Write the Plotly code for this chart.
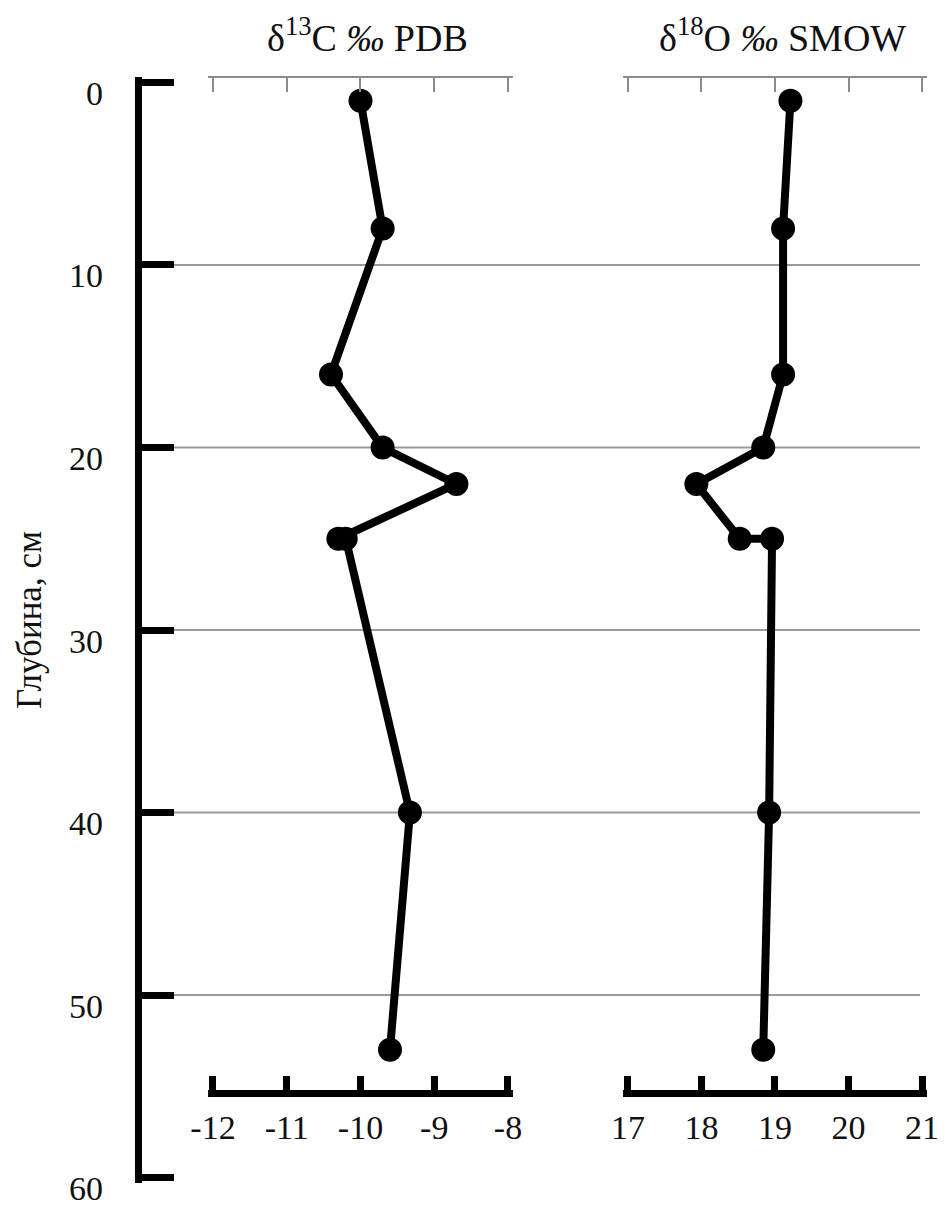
import plotly.graph_objects as go

# Depth (cm) and isotope values
depth_c = [1, 8, 16, 20, 22, 25, 25, 40, 53]
d13c = [-10.0, -9.7, -10.4, -9.7, -8.7, -10.3, -10.2, -9.33, -9.6]

depth_o = [1, 8, 16, 20, 22, 25, 25, 40, 53]
d18o = [19.21, 19.11, 19.11, 18.84, 17.93, 18.52, 18.96, 18.92, 18.84]

depth_ticks = [0, 10, 20, 30, 40, 50, 60]
grid_ticks = [10, 20, 30, 40, 50]
c_ticks = [-12, -11, -10, -9, -8]
o_ticks = [17, 18, 19, 20, 21]

FONT = "Liberation Serif"
OFF = 8  # default page margin of the html body
W, H = 950 - OFF, 1207 - OFF

# pixel layout of the reference (page coordinates)
Y0_PX, Y60_PX = 82, 1178
UY = (Y60_PX - Y0_PX) / 60.0
PADY = 0.3
MT = (Y0_PX - OFF) - PADY * UY
MB = (H - (Y60_PX - OFF)) - PADY * UY
ML = 138 - OFF
MR = 21 - OFF
PW = W - ML - MR
PH = H - MT - MB


def px_x(p):
    return (p - OFF - ML) / PW


def px_y(p):
    return (H - MB - (p - OFF)) / PH


def padded(lo_px, hi_px, lo_v, hi_v, pad=0.07):
    u = (hi_px - lo_px) / (hi_v - lo_v)
    dom = [px_x(lo_px - pad * u), px_x(hi_px + pad * u)]
    rng = [lo_v - pad, hi_v + pad]
    return dom, rng


dom_c, rng_c = padded(213, 508, -12, -8)
dom_o, rng_o = padded(628, 922, 17, 21)

fig = go.Figure()
fig.add_trace(go.Scatter(x=d13c, y=depth_c, xaxis="x", yaxis="y",
                         mode="lines+markers",
                         line=dict(color="black", width=8),
                         marker=dict(color="black", size=24),
                         cliponaxis=False, showlegend=False, hoverinfo="skip"))
fig.add_trace(go.Scatter(x=d18o, y=depth_o, xaxis="x2", yaxis="y",
                         mode="lines+markers",
                         line=dict(color="black", width=8),
                         marker=dict(color="black", size=24),
                         cliponaxis=False, showlegend=False, hoverinfo="skip"))
# empty traces so that the top (grey) axes get drawn
fig.add_trace(go.Scatter(x=[], y=[], xaxis="x3", yaxis="y", showlegend=False,
                         hoverinfo="skip"))
fig.add_trace(go.Scatter(x=[], y=[], xaxis="x4", yaxis="y", showlegend=False,
                         hoverinfo="skip"))

bottom_pos = px_y(1093)
tickfont = dict(family=FONT, size=34, color="#111")

common_bottom = dict(anchor="free", position=bottom_pos, showline=True,
                     linecolor="black", linewidth=7, ticks="inside",
                     ticklen=14, tickwidth=7, tickcolor="black",
                     showgrid=False, zeroline=False, tickfont=tickfont,
                     ticklabelstandoff=2, automargin=False)
common_top = dict(side="top", anchor="free", position=1, showline=True,
                  linecolor="#8c8c8c", linewidth=2, ticks="inside",
                  ticklen=14, tickwidth=2, tickcolor="#8c8c8c",
                  showticklabels=False, showgrid=False, zeroline=False,
                  automargin=False)

fig.update_layout(
    width=W, height=H, autosize=False,
    margin=dict(l=ML, r=MR, t=MT, b=MB, pad=0),
    plot_bgcolor="white", paper_bgcolor="white",
    font=dict(family=FONT, color="#111"),
    xaxis=dict(domain=dom_c, range=rng_c, tickvals=c_ticks,
               ticktext=[str(v) for v in c_ticks], **common_bottom),
    xaxis2=dict(domain=dom_o, range=rng_o, tickvals=o_ticks,
                ticktext=[str(v) for v in o_ticks], **common_bottom),
    xaxis3=dict(overlaying="x", range=rng_c, tickvals=c_ticks, **common_top),
    xaxis4=dict(overlaying="x2", range=rng_o, tickvals=o_ticks, **common_top),
    yaxis=dict(domain=[0, 1], range=[60 + PADY, -PADY], anchor="free",
               position=0, showline=True, linecolor="black", linewidth=7,
               ticks="inside", ticklen=32, tickwidth=7, tickcolor="black",
               tickvals=depth_ticks, showticklabels=False, showgrid=False,
               zeroline=False, automargin=False),
)

# horizontal grid lines
for g in grid_ticks:
    fig.add_shape(type="line", xref="paper", yref="y", x0=0, x1=px_x(920),
                  y0=g, y1=g, line=dict(color="#9a9a9a", width=2),
                  layer="below")

# depth tick labels (drawn slightly below their ticks, as in the reference)
for d in depth_ticks:
    fig.add_annotation(text=str(d), xref="paper", yref="y", x=px_x(105), y=d,
                       xanchor="right", yanchor="middle", yshift=-11,
                       showarrow=False, font=tickfont)

fig.add_annotation(text="δ<sup>13</sup>C <i>‰</i> PDB", xref="paper", yref="paper",
                   x=px_x(367), y=px_y(34), xanchor="center", yanchor="middle",
                   showarrow=False, font=dict(family=FONT, size=38, color="#111"))
fig.add_annotation(text="δ<sup>18</sup>O <i>‰</i> SMOW", xref="paper", yref="paper",
                   x=px_x(782), y=px_y(34), xanchor="center", yanchor="middle",
                   showarrow=False, font=dict(family=FONT, size=38, color="#111"))
fig.add_annotation(text="Глубина, см", xref="paper", yref="paper",
                   x=px_x(29), y=px_y(620), xanchor="center", yanchor="middle",
                   textangle=-90, showarrow=False,
                   font=dict(family=FONT, size=35, color="#111"))

fig.write_html("out.html")
